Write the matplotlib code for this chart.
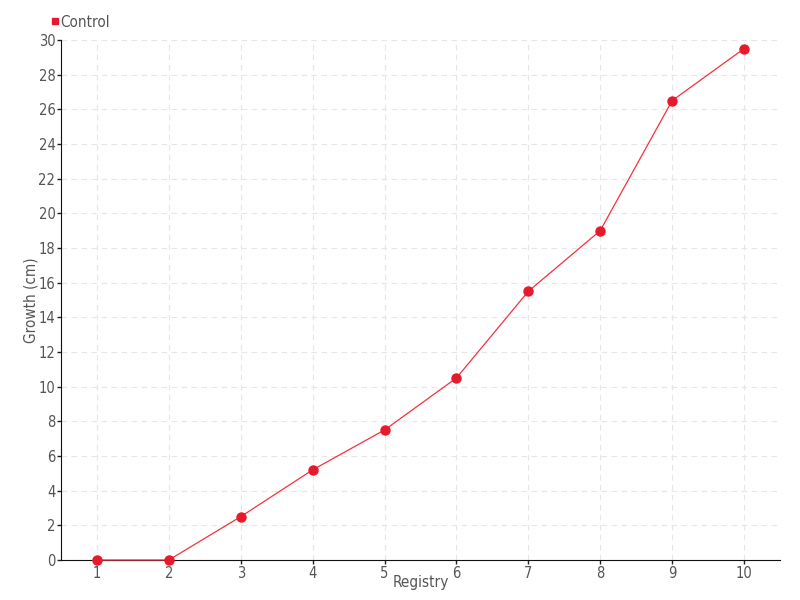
import matplotlib.pyplot as plt
from matplotlib.lines import Line2D

registry = [1, 2, 3, 4, 5, 6, 7, 8, 9, 10]
growth = [0, 0, 2.5, 5.2, 7.5, 10.5, 15.5, 19, 26.5, 29.5]
y_ticks = list(range(0, 31, 2))

plt.rcParams['font.family'] = ['DejaVu Sans']
plt.rcParams['font.stretch'] = 'condensed'

fig = plt.figure(figsize=(8, 6), dpi=100)
ax = fig.add_axes([0.07625, 0.0667, 0.89875, 0.8667])

ax.plot(registry, growth, color='#f7303f', lw=0.9, marker='o', markersize=6.5,
        markerfacecolor='#e8192c', markeredgecolor='#e8192c', zorder=3, clip_on=False)

ax.set_xlim(0.5, 10.5)
ax.set_ylim(0, 30)
ax.set_xticks(registry)
ax.set_yticks(y_ticks)
ax.tick_params(direction='out', length=3, width=1, color='#222222',
               labelcolor='#555555', labelsize=10.5, pad=1)
ax.grid(True, color='#e6e6e6', linestyle=(0, (5, 4)), lw=0.8)
ax.set_axisbelow(True)
for s in ['top', 'right']:
    ax.spines[s].set_visible(False)
ax.spines['left'].set_color('#111111')
ax.spines['bottom'].set_color('#111111')

ax.set_xlabel('Registry', color='#555555', fontsize=11, labelpad=-4)
ax.set_ylabel('Growth (cm)', color='#555555', fontsize=11, labelpad=0)

handle = Line2D([], [], color='#e8192c', marker='s', linestyle='none', markersize=5)
fig.legend([handle], ['Control'], loc='center left', bbox_to_anchor=(0.055, 0.963),
           frameon=False, handletextpad=0.05, handlelength=0.6, borderaxespad=0,
           fontsize=11, labelcolor='#555555')

fig.savefig('out.png', dpi=100)
